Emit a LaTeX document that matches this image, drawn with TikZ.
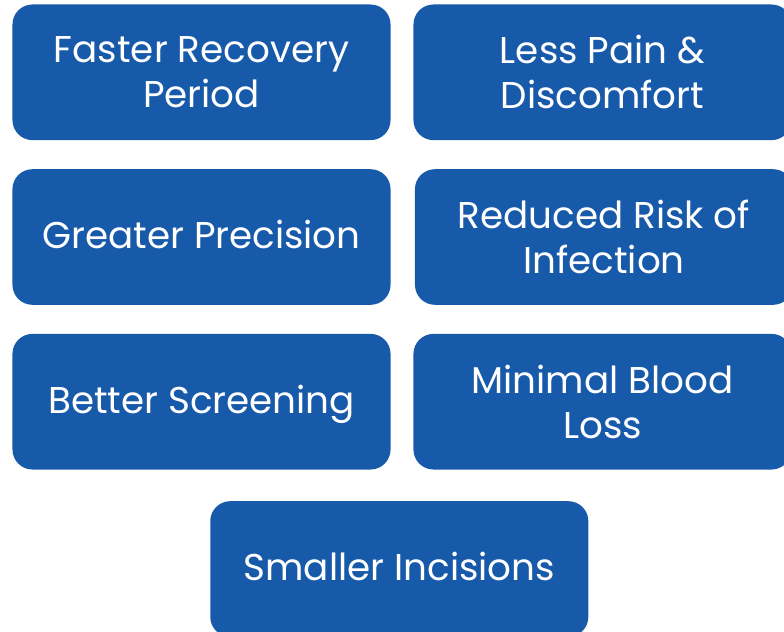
\documentclass[tikz,border=0pt]{standalone}
\usepackage{fontspec}
\setmainfont{Poppins}
\definecolor{benefitblue}{RGB}{24,90,170}

\begin{document}
\begin{tikzpicture}[x=0.025cm,y=-0.025cm,
  benefit/.style={fill=benefitblue,text=white,rounded corners=0.5cm,
    minimum width=9.45cm,minimum height=3.39cm,inner sep=0pt,align=center,
    font=\fontsize{26.5}{32}\selectfont},
  oneline/.style={benefit,text height=22.5pt,text depth=6.4pt}]
 \useasboundingbox (0,0) rectangle (784,632);
 %LEFT COLUMN
 \node[benefit] (recovery) at (201.5,72.3) {Faster Recovery\\Period};
 \node[oneline] (precision) at (201.5,237) {Greater Precision};
 \node[oneline] (screening) at (201.5,401.7) {Better Screening};
 %RIGHT COLUMN
 \node[benefit] (pain) at (602.5,72.3) {Less Pain \&\\Discomfort};
 \node[benefit] (infection) at (604,237) {Reduced Risk of\\Infection};
 \node[benefit] (blood) at (602.5,401.7) {Minimal Blood\\Loss};
 %BOTTOM
 \node[oneline] (incisions) at (399.3,569) {Smaller Incisions};
\end{tikzpicture}
\end{document}
